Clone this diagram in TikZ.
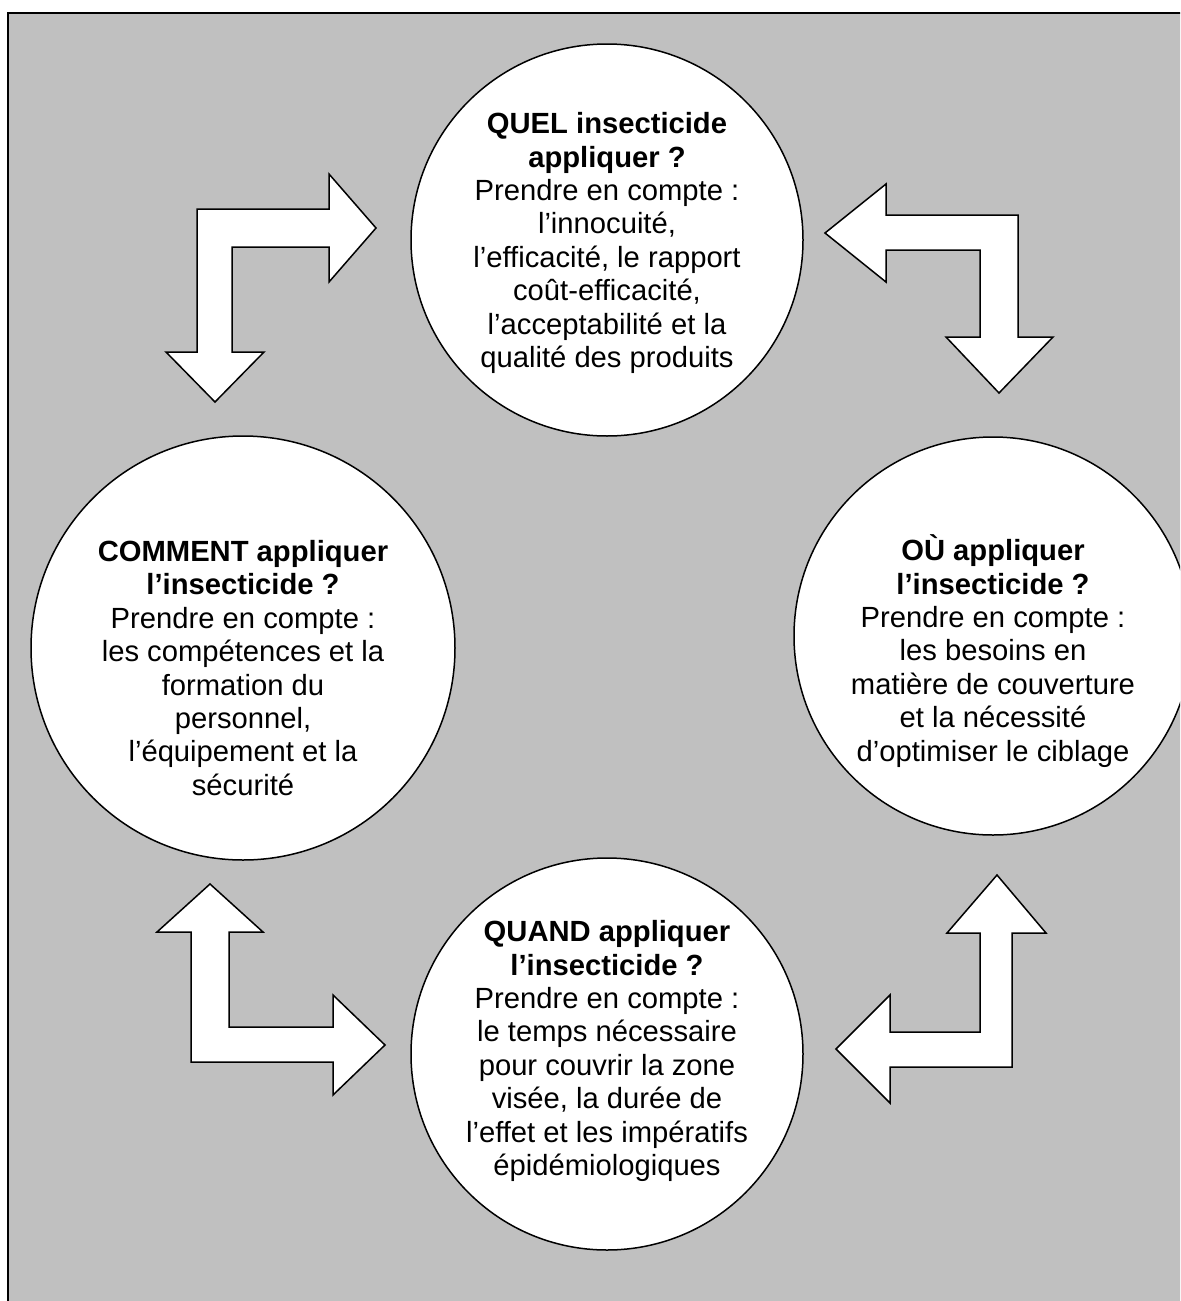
\documentclass[tikz,border=0pt]{standalone}
\usepackage{fontspec}
\setmainfont{Liberation Sans}
\usepackage{xcolor}
\usepackage{tikz}
\definecolor{panelgray}{RGB}{192,192,192}

\begin{document}
\begin{tikzpicture}[
  x=0.5pt, y=-0.5pt,
  font=\fontsize{14.6}{16.7}\selectfont,
  bubble/.style={draw,circle,fill=white,line width=0.75pt,inner sep=0pt,outer sep=0pt},
  txt/.style={align=center,inner sep=0pt},
  blockarrow/.style={draw,fill=white,line width=0.75pt,line join=miter},
]
  \useasboundingbox (0,0) rectangle (1180,1301);
  \clip (0,0) rectangle (1180,1301);
  \draw[fill=panelgray,line width=0.8pt] (8,13) rectangle (1400,1500);

  % the four questions
  \node[bubble,minimum size=196pt] (quel)    at (607,240)  {};
  \node[bubble,minimum size=199pt] (ou)      at (993,636)  {};
  \node[bubble,minimum size=196pt] (quand)   at (607,1054) {};
  \node[bubble,minimum size=212pt] (comment) at (243,648)  {};

  \node[txt] (quel-t) at (607,243) {\textbf{QUEL insecticide}\\\textbf{appliquer ?}\\Prendre en compte :\\l’innocuité,\\l’efficacité, le rapport\\coût-efficacité,\\l’acceptabilité et la\\qualité des produits};
  \node[txt] (ou-t) at (993,651) {\textbf{OÙ appliquer}\\\textbf{l’insecticide ?}\\Prendre en compte :\\les besoins en\\matière de couverture\\et la nécessité\\d’optimiser le ciblage};
  \node[txt] (quand-t) at (607,1051) {\textbf{QUAND appliquer}\\\textbf{l’insecticide ?}\\Prendre en compte :\\le temps nécessaire\\pour couvrir la zone\\visée, la durée de\\l’effet et les impératifs\\épidémiologiques};
  \node[txt] (comment-t) at (243,668) {\textbf{COMMENT appliquer}\\\textbf{l’insecticide ?}\\Prendre en compte :\\les compétences et la\\formation du\\personnel,\\l’équipement et la\\sécurité};

  % elbow arrows between the circles
  \draw[blockarrow] (215,402) -- (264,352) -- (232,352) -- (232,247) -- (329,247) -- (329,282)
    -- (376,228) -- (329,174) -- (329,209) -- (197,209) -- (197,352) -- (166,352) -- cycle;
  \draw[blockarrow] (825,233) -- (886,184) -- (886,215) -- (1018,215) -- (1018,337) -- (1053,337)
    -- (999,393) -- (946,337) -- (980,337) -- (980,250) -- (886,250) -- (886,282) -- cycle;
  \draw[blockarrow] (997,875) -- (1046,933) -- (1012,933) -- (1012,1067) -- (890,1067) -- (890,1103)
    -- (836,1049) -- (890,995) -- (890,1032) -- (980,1032) -- (980,933) -- (947,933) -- cycle;
  \draw[blockarrow] (210,884) -- (263,932) -- (229,932) -- (229,1027) -- (333,1027) -- (333,995)
    -- (385,1045) -- (333,1095) -- (333,1062) -- (191,1062) -- (191,932) -- (157,932) -- cycle;
\end{tikzpicture}
\end{document}
